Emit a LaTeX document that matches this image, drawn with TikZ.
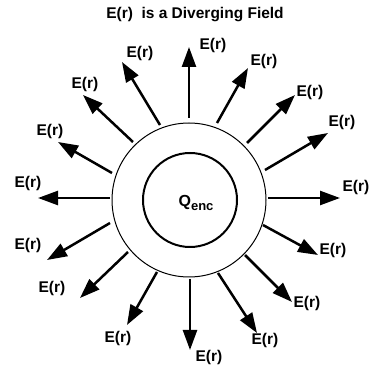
\documentclass[tikz,border=0pt]{standalone}
\usepackage{fontspec}
\setmainfont{Liberation Sans}
\usetikzlibrary{arrows.meta}
\tikzset{
  fieldarrow/.style={-{Triangle[length=20pt,width=14pt]},line width=2.5pt},
  fieldlabel/.style={font=\fontsize{15.5}{18}\selectfont\bfseries,inner sep=0pt},
}

\begin{document}
\begin{tikzpicture}[x=1pt,y=-1pt]
    \useasboundingbox (0,0) rectangle (370,366);
    \node[fieldlabel] (title) at (195,15) {E(r)\ \ is a Diverging Field};
    \node[circle,draw,line width=1pt,minimum size=154pt,inner sep=0pt] (shell) at (189,200) {};
    \node[circle,draw,line width=2pt,minimum size=94pt,inner sep=0pt] (core) at (190,200) {};
    \node[fieldlabel,font=\fontsize{16}{18}\selectfont\bfseries] (charge) at (196,203)
      {Q\raisebox{-3.5pt}{\fontsize{13}{15}\selectfont enc}};
    \foreach \i/\sx/\sy/\tx/\ty/\lx/\ly in {
        1/189/118/189/47/213/45,
        2/160/125/122/62/140/53,
        3/217/123/248/68/264/61,
        4/133/142/83/95/85/84,
        5/247/143/295/95/310/92,
        6/112/173/58/142/50/131,
        7/110/198/38/198/28/183,
        8/110/223/47/260/28/245,
        9/265/170/328/133/342/122,
        10/268/198/340/198/356/187,
        11/263/225/318/255/333/250,
        12/128/252/80/298/52/288,
        13/157/272/127/325/118/338,
        14/190/279/190/350/209/357,
        15/218/273/257/333/265/340,
        16/245/255/292/302/307/303}{
      \coordinate (s\i) at (\sx,\sy);
      \coordinate (t\i) at (\tx,\ty);
      \node[fieldlabel] (l\i) at (\lx,\ly) {E(r)};
      \draw[fieldarrow] (s\i) -- (t\i);
    }
\end{tikzpicture}
\end{document}
